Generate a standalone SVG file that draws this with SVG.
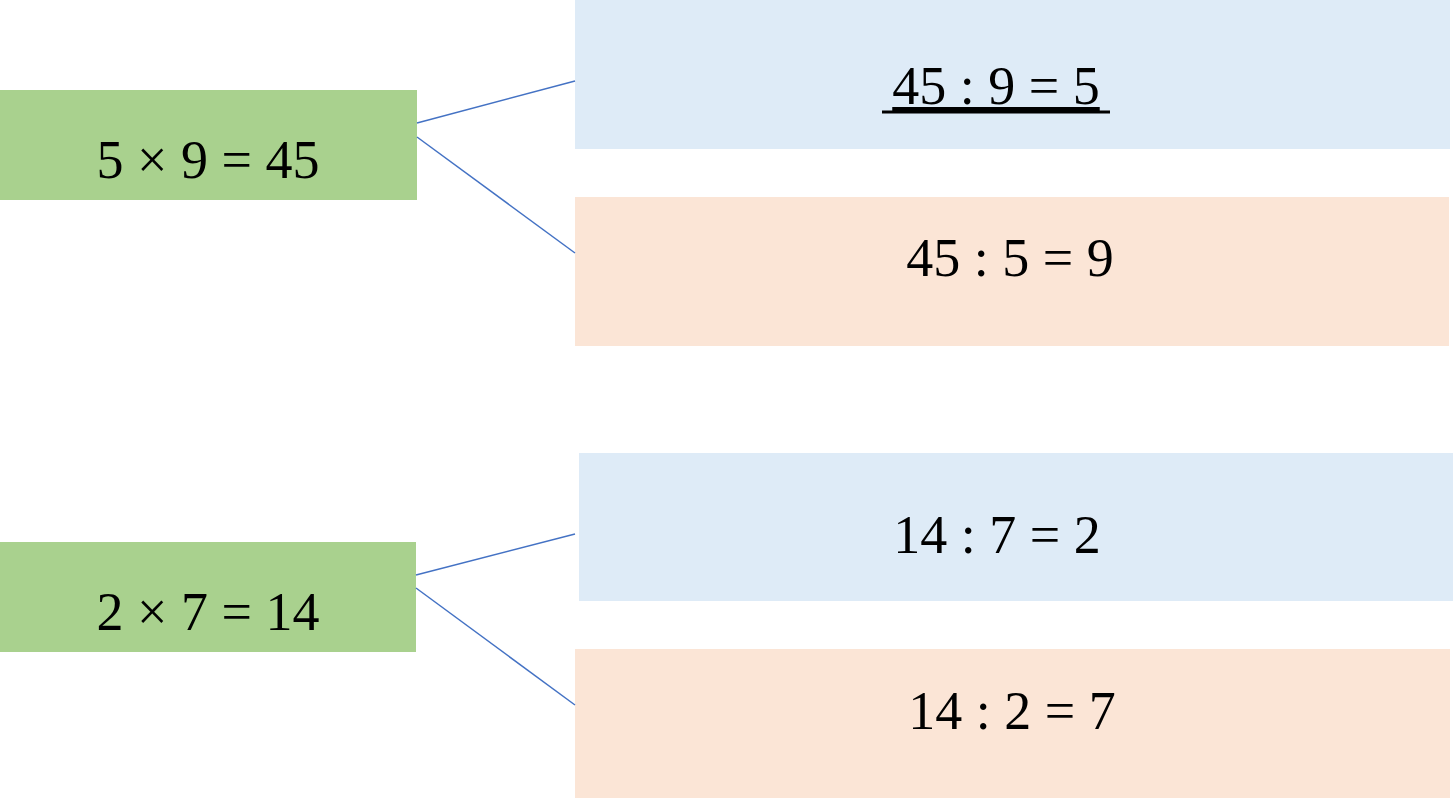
<svg xmlns="http://www.w3.org/2000/svg" width="1453" height="798" viewBox="0 0 1453 798">
<style>
text{font-family:"Liberation Serif",serif;font-size:54px;fill:#000;text-anchor:middle}
.g{fill:#a9d18e}.b{fill:#deebf7}.o{fill:#fbe5d6}
.c line{stroke:#4472c4;stroke-width:1.5}
</style>
<rect width="1453" height="798" fill="#fff"/>
<g id="n1"><rect class="g" x="0" y="90" width="417" height="110"/><text x="208" y="178">5 × 9 = 45</text></g>
<g id="n2"><rect class="b" x="575" y="0" width="875" height="149"/><text x="996" y="104" text-decoration="underline">45 : 9 = 5</text><line x1="882" y1="112" x2="1110" y2="112" stroke="#000" stroke-width="3"/></g>
<g id="n3"><rect class="o" x="575" y="197" width="874" height="149"/><text x="1010" y="276">45 : 5 = 9</text></g>
<g id="n4"><rect class="g" x="0" y="542" width="416" height="110"/><text x="208" y="630">2 × 7 = 14</text></g>
<g id="n5"><rect class="b" x="579" y="453" width="874" height="148"/><text x="997" y="553">14 : 7 = 2</text></g>
<g id="n6"><rect class="o" x="575" y="649" width="875" height="149"/><text x="1012" y="729">14 : 2 = 7</text></g>
<g class="c" id="connectors">
<line x1="417" y1="123" x2="575" y2="81"/>
<line x1="417" y1="137" x2="575" y2="253"/>
<line x1="416" y1="575" x2="575" y2="534"/>
<line x1="416" y1="588" x2="575" y2="705"/>
</g>
</svg>
